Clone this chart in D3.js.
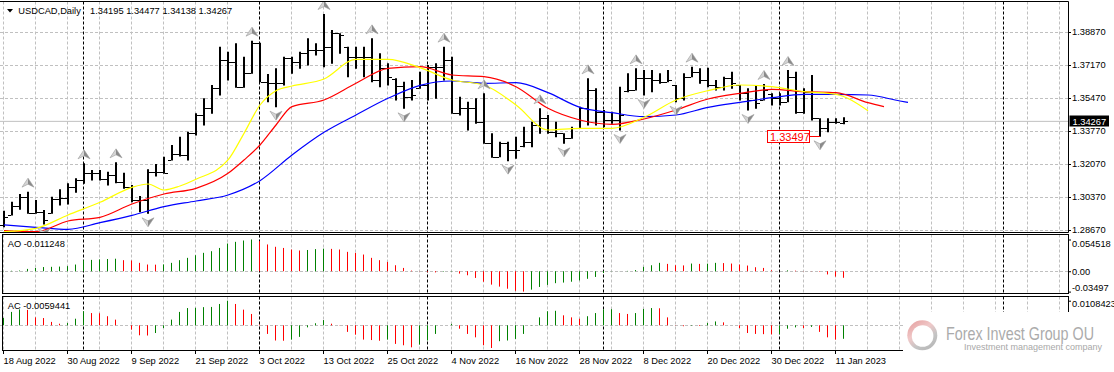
<!DOCTYPE html>
<html>
<head>
<meta charset="utf-8">
<title>USDCAD Daily</title>
<script src="https://cdn.jsdelivr.net/npm/d3@7"></script>
<style>
  html, body { margin: 0; padding: 0; background: #fff; }
  svg { display: block; }
  text { font-family: "Liberation Sans", Arial, sans-serif; }
</style>
</head>
<body>
<svg id="chart"></svg>
<script>
// ------------------------------------------------ data
var symbol = "USDCAD,Daily"
var priceTicks = [1.38870, 1.37170, 1.35470, 1.33770, 1.32070, 1.30370, 1.28670]
var dateIdx = [0, 8, 16, 24, 32, 40, 48, 56, 64, 72, 80, 88, 96, 104]
var dateLabels = ["18 Aug 2022", "30 Aug 2022", "9 Sep 2022", "21 Sep 2022", "3 Oct 2022", "13 Oct 2022",
    "25 Oct 2022", "4 Nov 2022", "16 Nov 2022", "28 Nov 2022", "8 Dec 2022", "20 Dec 2022", "30 Dec 2022", "11 Jan 2023"]
var separatorIdx = [10, 32, 53, 75, 97, 125] // month starts (Sep .. Feb)

var open = [1.28929, 1.29460, 1.29907, 1.30388, 1.29564, 1.29616, 1.29550, 1.30251, 1.30302, 1.30903,
    1.31246, 1.31590, 1.31624, 1.31281, 1.31504, 1.31161, 1.30903, 1.30216, 1.30216, 1.31676,
    1.31676, 1.32300, 1.32586, 1.32534, 1.33650, 1.34595, 1.34938, 1.35968, 1.37428, 1.37342,
    1.36020, 1.36775, 1.38286, 1.36312, 1.36260, 1.36226, 1.37514, 1.37342, 1.37771, 1.37943,
    1.37943, 1.38115, 1.38801, 1.38100, 1.37599, 1.37599, 1.37599, 1.36398, 1.36998, 1.36470,
    1.36088, 1.35539, 1.35980, 1.36140, 1.37084, 1.37084, 1.37428, 1.34680, 1.34938, 1.34938,
    1.34251, 1.33135, 1.32448, 1.33135, 1.32792, 1.32980, 1.33221, 1.34079, 1.34423, 1.33736,
    1.33650, 1.33393, 1.33908, 1.34938, 1.35882, 1.34766, 1.34337, 1.34337, 1.35820, 1.35882,
    1.36518, 1.36483, 1.36398, 1.36312, 1.36120, 1.35453, 1.36569, 1.36827, 1.36398, 1.36140,
    1.36054, 1.36483, 1.36120, 1.35711, 1.35367, 1.35380, 1.35700, 1.35453, 1.35281, 1.36569,
    1.34766, 1.35797, 1.34423, 1.33908, 1.34251, 1.34195]
var high = [1.29667, 1.30130, 1.30525, 1.30646, 1.30216, 1.29702, 1.30388, 1.30766, 1.31075, 1.31332,
    1.32105, 1.31762, 1.31762, 1.31676, 1.32156, 1.31624, 1.30989, 1.30422, 1.31796, 1.32071,
    1.32448, 1.33049, 1.33478, 1.33736, 1.34680, 1.35453, 1.36140, 1.38115, 1.37857, 1.38286,
    1.37599, 1.38424, 1.38321, 1.36707, 1.36998, 1.37599, 1.37599, 1.37857, 1.38544, 1.38286,
    1.39797, 1.38973, 1.38801, 1.38115, 1.38115, 1.38115, 1.38544, 1.37771, 1.37256, 1.36483,
    1.36312, 1.36398, 1.36827, 1.37170, 1.37256, 1.38115, 1.37599, 1.35539, 1.35281, 1.35453,
    1.35711, 1.33650, 1.33221, 1.33221, 1.33478, 1.33994, 1.34251, 1.34938, 1.34595, 1.34251,
    1.33650, 1.33994, 1.35024, 1.36483, 1.35968, 1.34852, 1.34766, 1.36054, 1.36741, 1.36998,
    1.36913, 1.36913, 1.36741, 1.36913, 1.36140, 1.36741, 1.37084, 1.36998, 1.37033, 1.36398,
    1.36569, 1.36827, 1.36140, 1.35968, 1.36140, 1.36191, 1.35711, 1.35711, 1.36913, 1.36827,
    1.35968, 1.36655, 1.34423, 1.34423, 1.34423, 1.34477]
var low = [1.28843, 1.29444, 1.29736, 1.29530, 1.29530, 1.28980, 1.29530, 1.29959, 1.30010, 1.30611,
    1.31075, 1.31246, 1.31246, 1.30989, 1.31109, 1.30817, 1.30130, 1.29616, 1.29530, 1.31452,
    1.31590, 1.32277, 1.32483, 1.32277, 1.33564, 1.34079, 1.34680, 1.35625, 1.36398, 1.36020,
    1.36020, 1.36741, 1.36312, 1.35281, 1.35024, 1.36140, 1.36741, 1.36998, 1.37170, 1.37685,
    1.37084, 1.37256, 1.37771, 1.36569, 1.36998, 1.36569, 1.36312, 1.36054, 1.36140, 1.35367,
    1.34938, 1.35367, 1.35968, 1.35367, 1.35453, 1.36398, 1.34680, 1.34595, 1.33822, 1.34165,
    1.33135, 1.32414, 1.32448, 1.32242, 1.32362, 1.32963, 1.32963, 1.33650, 1.33650, 1.33478,
    1.33135, 1.33393, 1.33908, 1.34079, 1.34079, 1.33994, 1.34165, 1.33822, 1.35797, 1.35882,
    1.35625, 1.35797, 1.36226, 1.36312, 1.35281, 1.35367, 1.36569, 1.36226, 1.36054, 1.35882,
    1.35882, 1.35968, 1.35367, 1.34852, 1.34938, 1.35367, 1.35110, 1.35110, 1.35281, 1.34680,
    1.34680, 1.34337, 1.33497, 1.33736, 1.34165, 1.34138]
var close = [1.29358, 1.29907, 1.30388, 1.29564, 1.29616, 1.29186, 1.30251, 1.30302, 1.30903, 1.31246,
    1.31590, 1.31624, 1.31281, 1.31504, 1.31161, 1.30903, 1.30216, 1.30216, 1.31676, 1.31676,
    1.31624, 1.32586, 1.32534, 1.33650, 1.34595, 1.34938, 1.35968, 1.37428, 1.37342, 1.36020,
    1.36775, 1.38286, 1.36312, 1.36260, 1.36226, 1.37514, 1.37342, 1.37771, 1.37943, 1.37943,
    1.38115, 1.38801, 1.38715, 1.37599, 1.37599, 1.37599, 1.36398, 1.36998, 1.36569, 1.36088,
    1.35539, 1.35625, 1.36140, 1.37084, 1.37084, 1.37428, 1.34680, 1.34938, 1.34938, 1.34251,
    1.33135, 1.32448, 1.33135, 1.32792, 1.32792, 1.33221, 1.34079, 1.34423, 1.33736, 1.33650,
    1.33393, 1.33908, 1.34938, 1.35882, 1.34766, 1.34337, 1.34337, 1.34595, 1.35882, 1.36518,
    1.36483, 1.36398, 1.36312, 1.36398, 1.35453, 1.36569, 1.36827, 1.36398, 1.36140, 1.36054,
    1.36483, 1.36226, 1.35711, 1.35367, 1.35196, 1.35882, 1.35453, 1.35281, 1.36569, 1.34766,
    1.35797, 1.34423, 1.33908, 1.34251, 1.34251, 1.34267]

// Alligator lines: [bar index, price]
var jaw = [[0, 1.28929], [4, 1.28809], [8, 1.28705], [12, 1.29049], [16, 1.29427], [20, 1.29873], [24, 1.30165],
    [28, 1.30474], [32, 1.31212], [36, 1.32534], [40, 1.33702], [44, 1.34595], [48, 1.35453], [52, 1.36123],
    [56, 1.36346], [60, 1.36226], [64, 1.36260], [68, 1.35745], [72, 1.34989], [76, 1.34715], [80, 1.34509],
    [84, 1.34595], [88, 1.34989], [92, 1.35247], [96, 1.35487], [100, 1.35659], [104, 1.35659], [108, 1.35625],
    [112, 1.35316], [113, 1.35247]]
var teeth = [[0, 1.28637], [4, 1.28585], [8, 1.29135], [12, 1.29324], [16, 1.30010], [20, 1.30525], [24, 1.30817],
    [28, 1.31590], [30, 1.32277], [32, 1.33049], [34, 1.34079], [36, 1.35024], [40, 1.35367], [44, 1.36226],
    [48, 1.36998], [52, 1.37084], [56, 1.36655], [60, 1.36569], [64, 1.36054], [68, 1.34938], [72, 1.34337],
    [76, 1.34114], [80, 1.34389], [84, 1.34852], [88, 1.35419], [92, 1.35711], [96, 1.35917], [100, 1.35797],
    [104, 1.35745], [108, 1.35230], [110, 1.35024]]
var lips = [[0, 1.28585], [4, 1.28757], [8, 1.29444], [12, 1.30096], [16, 1.30869], [18, 1.31041], [20, 1.30731],
    [22, 1.30937], [24, 1.31281], [28, 1.32277], [30, 1.33650], [32, 1.35110], [34, 1.35848], [36, 1.36088],
    [40, 1.36449], [44, 1.37462], [48, 1.37462], [52, 1.37033], [56, 1.36398], [60, 1.36140], [64, 1.35110],
    [68, 1.33822], [72, 1.33908], [76, 1.33908], [80, 1.34475], [84, 1.35367], [88, 1.35848], [92, 1.36140],
    [96, 1.36054], [100, 1.35797], [104, 1.35659], [108, 1.34818]]

var fractalUp = [3, 10, 14, 31, 40, 46, 55, 60, 67, 73, 79, 86, 95, 98]
var fractalDown = [5, 18, 34, 50, 63, 70, 77, 80, 84, 93, 102]
var lowMarkIdx = 102, lowMarkPrice = 1.33497

var ao = [0.0004, 0.0008, 0.0012, 0.0040, 0.0057, 0.0072, 0.0076, 0.0080, 0.0088, 0.0115,
    0.0190, 0.0195, 0.0203, 0.0210, 0.0215, 0.0190, 0.0184, 0.0144, 0.0115, 0.0113,
    0.0117, 0.0144, 0.0190, 0.0230, 0.0275, 0.0316, 0.0344, 0.0400, 0.0476, 0.0505,
    0.0528, 0.054518, 0.0517, 0.0460, 0.0420, 0.0400, 0.0373, 0.0356, 0.0365, 0.0380,
    0.0388, 0.0384, 0.0373, 0.0333, 0.0316, 0.0287, 0.0230, 0.0190, 0.0160, 0.0103,
    0.0057, 0.0011, 0.0003, -0.0015, -0.0020, -0.0008, -0.0006, -0.0040, -0.0069, -0.0115,
    -0.0180, -0.0230, -0.0264, -0.0300, -0.0335, -0.03497, -0.0316, -0.0270, -0.0235, -0.0205,
    -0.0195, -0.0180, -0.0158, -0.0130, -0.0098, -0.0030, -0.0003, 0.0002, 0.0006, 0.0020,
    0.0075, 0.0103, 0.0144, 0.0126, 0.0103, 0.0100, 0.0132, 0.0126, 0.0130, 0.0144,
    0.0140, 0.0132, 0.0115, 0.0098, 0.0069, 0.0057, 0.0017, 0.0002, 0.0015, 0.0010,
    0.0003, -0.0003, -0.0008, -0.0055, -0.0092, -0.011248]
var ac = [0.0032, 0.0059, 0.0070, 0.0068, 0.0035, 0.0032, 0.0015, 0.0007, 0.0010, 0.0029,
    0.0062, 0.0054, 0.0053, 0.0040, 0.0025, 0.0000, -0.0019, -0.0044, -0.0045, -0.0034,
    -0.0012, 0.0025, 0.0059, 0.0076, 0.0077, 0.0080, 0.0081, 0.0094, 0.0108423, 0.0094,
    0.0069, 0.0050, 0.0003, -0.0038, -0.0067, -0.0068, -0.0063, -0.0051, -0.0009, 0.0009,
    0.0023, 0.0007, -0.0001, -0.0029, -0.0041, -0.0063, -0.0065, -0.0068, -0.0063, -0.0082,
    -0.0088, -0.0097, -0.0085, -0.0067, -0.0038, 0.0000, 0.0006, -0.0015, -0.0038, -0.0053,
    -0.0088, -0.0100, -0.0070, -0.0067, -0.0060, -0.0038, 0.0001, 0.0035, 0.0062, 0.0064,
    0.0044, 0.0035, 0.0029, 0.0040, 0.0054, 0.0070, 0.0071, 0.0054, 0.0050, 0.0054,
    0.0072, 0.0076, 0.0075, 0.0035, -0.0001, -0.0004, -0.0002, -0.0003, 0.0010, 0.0017,
    0.0013, 0.0000, -0.0012, -0.0034, -0.0038, -0.0039, -0.0040, -0.0038, -0.0015, -0.0009,
    -0.0012, -0.0007, -0.0029, -0.0053, -0.0063, -0.0059441]
var aoScaleLabels = ["0.054518", "0.00", "-0.03497"]
var acScaleLabels = ["0.0108423", "-0.01000"]

// ------------------------------------------------ layout
var W = 1114, H = 372, right = 1068.5
var svg = d3.select("#chart").attr("width", W).attr("height", H)
svg.append("rect").attr("width", W).attr("height", H).attr("fill", "#fff")

var x = d3.scaleLinear().domain([0, 1]).range([3, 11]) // bar index -> left pixel column
var yMain = d3.scaleLinear().domain([1.28670, 1.38870]).range([230, 32])
var yAO = d3.scaleLinear().domain([d3.min(ao), d3.max(ao)]).range([291.6, 239.5])
var yAC = d3.scaleLinear().domain([d3.min(ac), d3.max(ac)]).range([348, 300.7])
var fmt5 = d3.format(".5f")
var px = v => Math.round(v) + 0.5

var panels = [{ top: 1.5, bottom: 232.5, left: -1 }, { top: 234.5, bottom: 293.5, left: 2.5 }, { top: 296.5, bottom: 350.5, left: 2.5 }]
var defs = svg.append("defs")
panels.forEach((p, i) => defs.append("clipPath").attr("id", "clip" + i).append("rect")
    .attr("x", 0).attr("y", p.top).attr("width", right).attr("height", p.bottom - p.top))
// the watermark hides the AC scale label except for its last glyph
defs.append("clipPath").attr("id", "clipTail").append("rect").attr("x", 1103).attr("y", 300).attr("width", 20).attr("height", 60)

//------------------------------------------------------------- grid for every panel
var gridIdx = d3.range(0, 133, 4)
panels.forEach((p, i) => {
    var g = svg.append("g").attr("clip-path", "url(#clip" + i + ")")
    g.selectAll(".vgrid").data(gridIdx).join("line").attr("class", "vgrid")
        .attr("x1", d => x(d) + 0.5).attr("x2", d => x(d) + 0.5).attr("y1", p.top).attr("y2", p.bottom)
        .attr("stroke", "#c0c0c0").attr("stroke-dasharray", "3,2")
    var hLevels = i == 0 ? priceTicks.map(yMain) : i == 1 ? [yAO(0)] : [yAC(0)]
    g.selectAll(".hgrid").data(hLevels).join("line").attr("class", "hgrid")
        .attr("x1", 0).attr("x2", right).attr("y1", d => px(d)).attr("y2", d => px(d))
        .attr("stroke", "#c0c0c0").attr("stroke-dasharray", "3,2")
    g.selectAll(".sep").data(separatorIdx).join("line").attr("class", "sep")
        .attr("x1", d => x(d) + 0.5).attr("x2", d => x(d) + 0.5).attr("y1", p.top).attr("y2", p.bottom)
        .attr("stroke", "#000").attr("stroke-dasharray", "3,2")
})

//------------------------------------------------------------- main chart
var main = svg.append("g").attr("clip-path", "url(#clip0)")
var lastIdx = close.length - 1
main.append("line").attr("x1", 0).attr("x2", right).attr("y1", yMain(close[lastIdx])).attr("y2", yMain(close[lastIdx]))
    .attr("stroke", "#c0c0c0")

var bars = main.selectAll(".bar").data(d3.range(close.length)).join("g").attr("class", "bar")
bars.append("line").attr("x1", i => x(i) + 1).attr("x2", i => x(i) + 1)
    .attr("y1", i => yMain(high[i])).attr("y2", i => yMain(low[i]) + 0.5)
    .attr("stroke", "#000").attr("stroke-width", 2)
bars.append("line").attr("x1", i => x(i) - 3).attr("x2", i => x(i))
    .attr("y1", i => px(yMain(open[i]))).attr("y2", i => px(yMain(open[i]))).attr("stroke", "#000")
bars.append("line").attr("x1", i => x(i) + 2).attr("x2", i => x(i) + 5)
    .attr("y1", i => px(yMain(close[i]))).attr("y2", i => px(yMain(close[i]))).attr("stroke", "#000")

var lineGen = d3.line().x(d => x(d[0]) + 1).y(d => yMain(d[1])).curve(d3.curveMonotoneX)
main.selectAll(".alligator").data([[jaw, "#0000ff"], [teeth, "#ff0000"], [lips, "#ffff00"]]).join("path")
    .attr("class", "alligator").attr("d", d => lineGen(d[0])).attr("fill", "none")
    .attr("stroke", d => d[1]).attr("stroke-width", 1.2)

// fractal arrows, two tone
function arrow(sel, dir) {
    var s = dir // 1 = up, -1 = down
    sel.append("path").attr("d", `M0,${-4.5 * s}L0,${1.5 * s}L-6,${4.5 * s}Z`).attr("fill", "#d4d4d4")
    sel.append("path").attr("d", `M0,${-4.5 * s}L6,${4.5 * s}L0,${1.5 * s}Z`).attr("fill", "#8a8a8a")
    sel.append("path").attr("d", `M0,${-4.5 * s}L6,${4.5 * s}L0,${1.5 * s}L-6,${4.5 * s}Z`)
        .attr("fill", "none").attr("stroke", "#9a9a9a").attr("stroke-width", 0.6)
}
main.selectAll(".fup").data(fractalUp).join("g").attr("class", "fup")
    .attr("transform", i => `translate(${x(i) + 1},${yMain(high[i]) - 9})`).call(arrow, 1)
main.selectAll(".fdn").data(fractalDown).join("g").attr("class", "fdn")
    .attr("transform", i => `translate(${x(i) + 1},${yMain(low[i]) + 9})`).call(arrow, -1)

// low price mark
var lm = svg.append("g")
var lmY = px(yMain(lowMarkPrice))
lm.append("line").attr("x1", 809.5).attr("x2", x(lowMarkIdx) + 1).attr("y1", lmY).attr("y2", lmY).attr("stroke", "#ff0000")
lm.append("rect").attr("x", 767.5).attr("y", lmY - 6).attr("width", 42).attr("height", 12)
    .attr("fill", "#fff").attr("stroke", "#ff0000")
lm.append("text").attr("x", 770).attr("y", lmY + 4).attr("font-size", 11).attr("fill", "#ff0000").text(fmt5(lowMarkPrice))

//------------------------------------------------------------- AO and AC histograms
function histo(values, y, clip) {
    svg.append("g").attr("clip-path", clip).selectAll("line").data(values).join("line")
        .attr("x1", (d, i) => x(i) + 0.5).attr("x2", (d, i) => x(i) + 0.5)
        .attr("y1", y(0)).attr("y2", d => y(d))
        .attr("stroke", (d, i) => i == 0 || d > values[i - 1] ? "#008000" : "#ff0000")
}
histo(ao, yAO, "url(#clip1)")
histo(ac, yAC, "url(#clip2)")

//------------------------------------------------------------- frames
svg.append("path").attr("d", `M0,1.5H${right}V232.5H0`).attr("fill", "none").attr("stroke", "#000")
panels.slice(1).forEach(p => svg.append("rect").attr("x", p.left).attr("y", p.top)
    .attr("width", right - p.left).attr("height", p.bottom - p.top).attr("fill", "none").attr("stroke", "#000"))

//------------------------------------------------------------- axes
function styleAxis(g, size) {
    g.select(".domain").remove()
    g.selectAll("text").attr("font-family", "Liberation Sans, Arial, sans-serif").attr("font-size", size).attr("fill", "#000")
    g.selectAll(".tick line").attr("stroke", "#000")
}
svg.append("g").attr("transform", `translate(${right - 0.5},0)`)
    .call(d3.axisRight(yMain).tickValues(priceTicks).tickFormat(fmt5).tickSize(3).tickPadding(1))
    .call(styleAxis, 9.3)

var aoAxis = svg.append("g").attr("transform", `translate(${right - 0.5},0)`)
    .call(d3.axisRight(yAO).tickValues([d3.max(ao), 0, d3.min(ao)]).tickFormat((d, i) => aoScaleLabels[i]).tickSize(3).tickPadding(1))
    .call(styleAxis, 9.3)
aoAxis.selectAll("text").attr("dy", (d, i) => ["0.7em", "0.32em", "-0.08em"][i])
var acAxis = svg.append("g").attr("transform", `translate(${right - 0.5},0)`)
    .call(d3.axisRight(yAC).tickValues([d3.max(ac), d3.min(ac)]).tickFormat((d, i) => acScaleLabels[i]).tickSize(3).tickPadding(1))
    .call(styleAxis, 9.3)
acAxis.selectAll("text").attr("dy", (d, i) => ["0.6em", "0.1em"][i])
acAxis.selectAll(".tick").filter((d, i) => i == 1).attr("clip-path", "url(#clipTail)")

svg.append("g").attr("transform", "translate(0,350)")
    .call(d3.axisBottom(x).tickValues(dateIdx).tickFormat((d, i) => dateLabels[i]).tickSize(4).tickPadding(3))
    .call(styleAxis, 9.3)
    .selectAll("text").attr("text-anchor", "start")

// current price tag
var cy = yMain(close[lastIdx])
svg.append("rect").attr("x", 1069.5).attr("y", Math.round(cy) - 5.5).attr("width", 39.5).attr("height", 11).attr("fill", "#000")
svg.append("text").attr("x", 1072.5).attr("y", Math.round(cy) + 3.5).attr("font-size", 9.3).attr("fill", "#fff").text(fmt5(close[lastIdx]))

//------------------------------------------------------------- labels
svg.append("path").attr("d", "M7,9H13L10,12.5Z").attr("fill", "#000")
svg.append("text").attr("x", 18.3).attr("y", 13.8).attr("font-size", 9.3).text(symbol)
svg.append("text").attr("x", 90).attr("y", 13.8).attr("font-size", 9.3)
    .text([open[lastIdx], high[lastIdx], low[lastIdx], close[lastIdx]].map(fmt5).join(" "))
svg.append("text").attr("x", 7.7).attr("y", 246.8).attr("font-size", 9.3).text("AO " + ao[lastIdx])
svg.append("text").attr("x", 7.7).attr("y", 308.8).attr("font-size", 9.3).text("AC " + ac[lastIdx])

//------------------------------------------------------------- watermark
var wm = svg.append("g")
wm.append("rect").attr("x", 903).attr("y", 312).attr("width", 200).attr("height", 60).attr("fill", "#fff")
var grad = defs.append("linearGradient").attr("id", "ring").attr("x1", 0).attr("y1", 0).attr("x2", 0.7).attr("y2", 1)
grad.append("stop").attr("offset", 0).attr("stop-color", "#e49a9a")
grad.append("stop").attr("offset", 0.45).attr("stop-color", "#f0c8c8")
grad.append("stop").attr("offset", 0.75).attr("stop-color", "#c4c4c4")
grad.append("stop").attr("offset", 1).attr("stop-color", "#b8b8b8")
wm.append("circle").attr("cx", 922.3).attr("cy", 335.3).attr("r", 15).attr("fill", "url(#ring)")
wm.append("circle").attr("cx", 922.6).attr("cy", 336).attr("r", 10.8).attr("fill", "#fff")
wm.append("text").attr("x", 946).attr("y", 340).attr("font-size", 19)
    .attr("textLength", 148).attr("lengthAdjust", "spacingAndGlyphs").attr("fill", "#ababab")
    .text("Forex Invest Group OU")
wm.append("text").attr("x", 964).attr("y", 350).attr("font-size", 9.5)
    .attr("textLength", 138).attr("lengthAdjust", "spacingAndGlyphs")
    .attr("fill", "#a8a8a8").text("Investment management company")
</script>
</body>
</html>
